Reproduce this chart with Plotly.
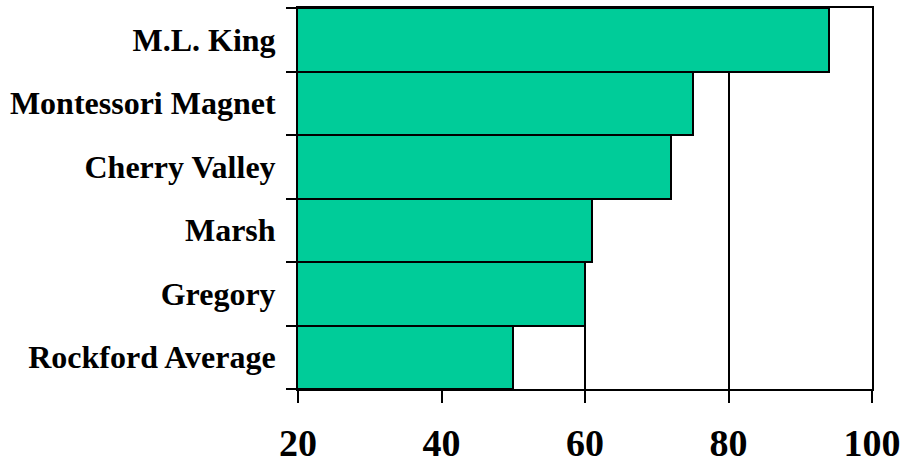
import plotly.graph_objects as go

schools = ["Rockford Average", "Gregory", "Marsh", "Cherry Valley", "Montessori Magnet", "M.L. King"]
values = [50, 60, 61, 72, 75, 94]
x_ticks = [20, 40, 60, 80, 100]

fig = go.Figure()
fig.add_trace(go.Bar(
    y=schools, x=values, orientation="h",
    marker=dict(color="#00CC99", line=dict(color="black", width=2)),
))

font_family = "Liberation Serif"
fig.update_layout(
    width=904, height=467,
    margin=dict(l=298, r=32, t=8, b=78),
    paper_bgcolor="white", plot_bgcolor="white",
    bargap=0, showlegend=False,
    font=dict(family=font_family, color="black"),
)
fig.update_xaxes(
    range=[20, 100], tickvals=x_ticks, ticktext=[str(v) for v in x_ticks],
    showgrid=True, gridcolor="black", gridwidth=2,
    showline=True, linecolor="black", linewidth=2, mirror=True,
    ticks="outside", ticklen=12, tickwidth=2, tickcolor="black",
    tickfont=dict(family=font_family, size=38, color="black", weight="bold"),
    ticklabelstandoff=7, zeroline=False, automargin=False,
)
fig.update_yaxes(
    categoryorder="array", categoryarray=schools,
    showgrid=False,
    showline=True, linecolor="black", linewidth=2, mirror=True,
    ticks="outside", ticklen=10, tickwidth=2, tickcolor="black",
    tickson="boundaries",
    tickfont=dict(family=font_family, size=32, color="black", weight="bold"),
    ticklabelstandoff=14, automargin=False,
)
fig.write_html(
    "out.html",
    config={"displayModeBar": False},
    post_script="document.body.style.margin='0px';document.body.style.overflow='hidden';",
)
